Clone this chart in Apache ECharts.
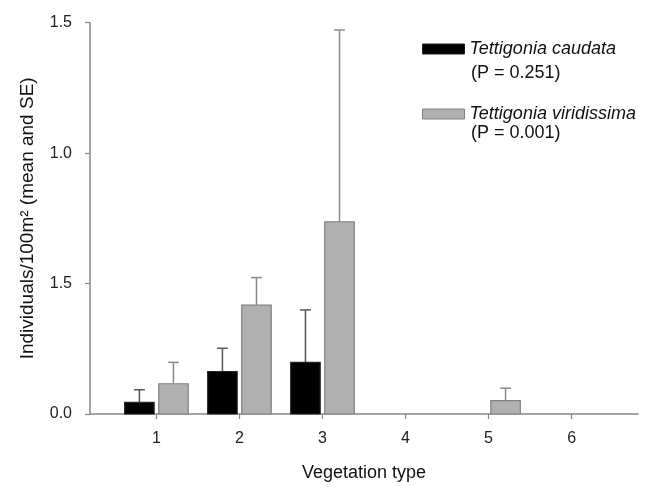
<!DOCTYPE html>
<html>
<head>
<meta charset="utf-8">
<script src="https://cdn.jsdelivr.net/npm/echarts@6/dist/echarts.min.js"></script>
<style>html,body{margin:0;padding:0;background:#fff;}#c{width:654px;height:487px;}</style>
</head>
<body>
<div id="c"></div>
<script>
// ---- data ----
var categories = [1, 2, 3, 4, 5, 6];
var caudataMean = [0.045, 0.163, 0.198, 0, 0, 0];
var caudataSE = [0.048, 0.089, 0.201, 0, 0, 0];
var viridissimaMean = [0.116, 0.417, 0.737, 0, 0.051, 0];
var viridissimaSE = [0.082, 0.106, 0.735, 0, 0.048, 0];
var yTickValues = [0, 0.5, 1.0, 1.5];
var yTickLabels = ['0.0', '1.5', '1.0', '1.5'];
var seriesNames = ['Tettigonia caudata', 'Tettigonia viridissima'];
var pValues = ['(P = 0.251)', '(P = 0.001)'];

var FONT = '"Liberation Sans", Arial, sans-serif';
var BAR_W = 0.355, OFFSET = 0.205, CAP_W = 0.13;

function buildData(means, ses) {
  return categories.map(function (c, i) { return [c, means[i], ses[i]]; });
}

function makeRender(offset, fill, stroke, errColor) {
  return function (params, api) {
    var x = api.value(0), m = api.value(1), se = api.value(2);
    if (!m) return null;
    var p0 = api.coord([x + offset - BAR_W / 2, 0]);
    var p1 = api.coord([x + offset + BAR_W / 2, m]);
    var top = api.coord([x + offset, m + se]);
    var mid = api.coord([x + offset, m]);
    var capL = api.coord([x + offset - CAP_W / 2, m + se]);
    var capR = api.coord([x + offset + CAP_W / 2, m + se]);
    return {
      type: 'group',
      children: [
        { type: 'line', shape: { x1: mid[0], y1: mid[1], x2: top[0], y2: top[1] },
          style: { stroke: errColor, lineWidth: 1.5 } },
        { type: 'line', shape: { x1: capL[0], y1: capL[1], x2: capR[0], y2: capR[1] },
          style: { stroke: errColor, lineWidth: 1.5 } },
        { type: 'rect', shape: { x: p0[0], y: p1[1], width: p1[0] - p0[0], height: p0[1] - p1[1] },
          style: { fill: fill, stroke: stroke, lineWidth: 1.2 } }
      ]
    };
  };
}

var chart = echarts.init(document.getElementById('c'), null, { renderer: 'canvas' });
chart.setOption({
  animation: false,
  backgroundColor: '#fff',
  grid: { left: 90, right: 16, top: 22.7, bottom: 72 },
  legend: {
    orient: 'vertical',
    left: 417,
    top: 35,
    itemWidth: 42,
    itemHeight: 10,
    itemGap: 47,
    icon: 'rect',
    selectedMode: false,
    textStyle: { fontFamily: FONT, fontSize: 18, fontStyle: 'italic', color: '#111' },
    data: [
      { name: seriesNames[0], itemStyle: { color: '#000', borderColor: '#222', borderWidth: 1 } },
      { name: seriesNames[1], itemStyle: { color: '#b0b0b0', borderColor: '#808080', borderWidth: 1 } }
    ]
  },
  graphic: [
    { type: 'text', left: 471, top: 64, style: { text: pValues[0], font: '18px ' + FONT, fill: '#111' } },
    { type: 'text', left: 471, top: 124, style: { text: pValues[1], font: '18px ' + FONT, fill: '#111' } }
  ],
  xAxis: {
    type: 'value',
    min: 0.2,
    max: 6.8,
    splitLine: { show: false },
    axisLine: { show: true, lineStyle: { color: '#888', width: 1.5 } },
    axisTick: { show: true, length: 5, lineStyle: { color: '#888', width: 1.2 }, customValues: categories },
    axisLabel: { customValues: categories, margin: 17, fontFamily: FONT, fontSize: 16, color: '#222' },
    name: 'Vegetation type',
    nameLocation: 'middle',
    nameGap: 50,
    nameTextStyle: { fontFamily: FONT, fontSize: 18, color: '#111' }
  },
  yAxis: {
    type: 'value',
    min: 0,
    max: 1.5,
    interval: 0.5,
    splitLine: { show: false },
    axisLine: { show: true, lineStyle: { color: '#888', width: 1.5 } },
    axisTick: { show: true, length: 5, lineStyle: { color: '#888', width: 1.2 } },
    axisLabel: {
      margin: 18, fontFamily: FONT, fontSize: 16, color: '#222',
      formatter: function (v) {
        var i = yTickValues.findIndex(function (t) { return Math.abs(t - v) < 1e-6; });
        return i >= 0 ? yTickLabels[i] : '';
      }
    },
    name: 'Individuals/100m² (mean and SE)',
    nameLocation: 'middle',
    nameGap: 53,
    nameTextStyle: { fontFamily: FONT, fontSize: 19, color: '#111' }
  },
  series: [
    { name: seriesNames[0], type: 'custom', renderItem: makeRender(-OFFSET, '#000', '#222', '#555'),
      itemStyle: { color: '#000' }, encode: { x: 0, y: 1 }, data: buildData(caudataMean, caudataSE) },
    { name: seriesNames[1], type: 'custom', renderItem: makeRender(OFFSET, '#b0b0b0', '#808080', '#8a8a8a'),
      itemStyle: { color: '#b0b0b0' }, encode: { x: 0, y: 1 }, data: buildData(viridissimaMean, viridissimaSE) }
  ]
});
</script>
</body>
</html>
